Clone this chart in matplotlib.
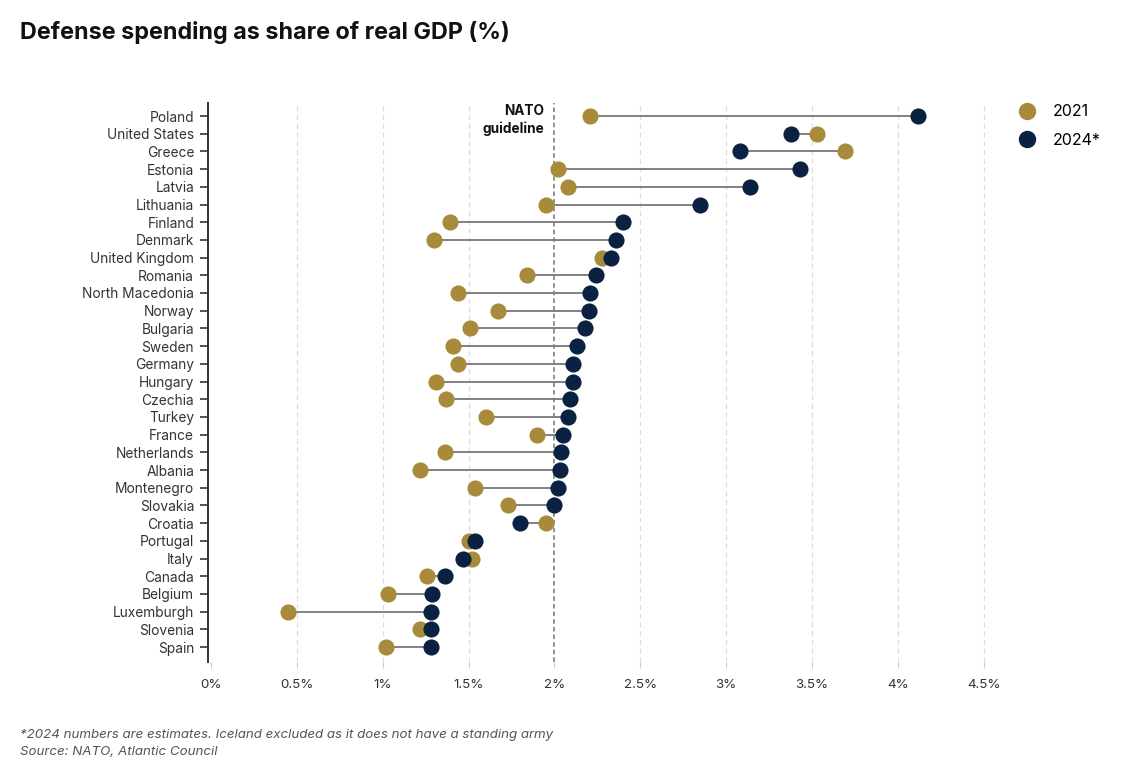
import matplotlib
matplotlib.use("Agg")
import matplotlib.pyplot as plt
from matplotlib.lines import Line2D

countries = ["Poland", "United States", "Greece", "Estonia", "Latvia", "Lithuania",
             "Finland", "Denmark", "United Kingdom", "Romania", "North Macedonia",
             "Norway", "Bulgaria", "Sweden", "Germany", "Hungary", "Czechia", "Turkey",
             "France", "Netherlands", "Albania", "Montenegro", "Slovakia", "Croatia",
             "Portugal", "Italy", "Canada", "Belgium", "Luxemburgh", "Slovenia", "Spain"]
v2021 = [2.21, 3.53, 3.69, 2.02, 2.08, 1.95, 1.39, 1.30, 2.28, 1.84, 1.44, 1.67, 1.51,
         1.41, 1.44, 1.31, 1.37, 1.60, 1.90, 1.36, 1.22, 1.54, 1.73, 1.95, 1.50, 1.52,
         1.26, 1.03, 0.45, 1.22, 1.02]
v2024 = [4.12, 3.38, 3.08, 3.43, 3.14, 2.85, 2.40, 2.36, 2.33, 2.24, 2.21, 2.20, 2.18,
         2.13, 2.11, 2.11, 2.09, 2.08, 2.05, 2.04, 2.03, 2.02, 2.00, 1.80, 1.54, 1.47,
         1.36, 1.29, 1.28, 1.28, 1.28]
xticks = [0, 0.5, 1, 1.5, 2, 2.5, 3, 3.5, 4, 4.5]
xticklabels = ["0%", "0.5%", "1%", "1.5%", "2%", "2.5%", "3%", "3.5%", "4%", "4.5%"]
guideline = 2.0

GOLD = "#A88B3A"
NAVY = "#0B2142"
FONT = ["Inter", "DejaVu Sans"]
plt.rcParams["font.family"] = FONT

W, H = 1135, 772
fig = plt.figure(figsize=(W / 100, H / 100), dpi=100)
ppu = 171.7
ax_left, ax_right = 208, 992
ax_top, ax_bot = 103, 662
ax = fig.add_axes([ax_left / W, 1 - ax_bot / H, (ax_right - ax_left) / W, (ax_bot - ax_top) / H])
ax.set_xlim(-3 / ppu, -3 / ppu + (ax_right - ax_left) / ppu)
n = len(countries)
step = 17.7
ax.set_ylim(n - 1 + 15 / step, -13 / step)

ys = list(range(n))
for xt in xticks[1:]:
    if xt == guideline:
        ax.axvline(xt, color="#777777", lw=1.1, ls=(0, (3, 2)), zorder=1)
    else:
        ax.axvline(xt, color="#DDDDDD", lw=0.9, ls=(0, (4, 3)), zorder=0)

ax.hlines(ys, v2021, v2024, color="#808080", lw=1.4, zorder=2)
ax.scatter(v2021, ys, s=135, color=GOLD, zorder=3, linewidths=0)
ax.scatter(v2024, ys, s=135, color=NAVY, zorder=4, linewidths=0)

ax.set_yticks(ys)
ax.set_yticklabels(countries, fontsize=9.9, color="#333333")
ax.set_xticks(xticks)
ax.set_xticklabels(xticklabels, fontsize=9.6, color="#333333")
ax.tick_params(axis="y", direction="out", length=6, width=1.2, color="#333333", pad=4)
ax.tick_params(axis="x", direction="out", length=4, width=0.8, color="#CCCCCC", pad=8)
for s in ["top", "right", "bottom"]:
    ax.spines[s].set_visible(False)
ax.spines["left"].set_color("#333333")
ax.spines["left"].set_linewidth(1.4)

ax.text(guideline - 0.06, 0.2, "NATO\nguideline", ha="right", va="center",
        fontsize=9.8, fontweight="bold", color="#111111", linespacing=1.3)

fig.text(20 / W, 1 - 32 / H, "Defense spending as share of real GDP (%)",
         fontsize=16.8, fontweight="bold", ha="left", va="center", color="#111111")

handles = [Line2D([], [], marker="o", ls="", color=GOLD, markersize=11.5, label="2021"),
           Line2D([], [], marker="o", ls="", color=NAVY, markersize=11.5, label="2024*")]
fig.legend(handles=handles, loc="upper left", bbox_to_anchor=(1005 / W, 1 - 98 / H),
           frameon=False, fontsize=11.5, handletextpad=0.6, labelspacing=0.85,
           borderaxespad=0)

fig.text(20 / W, 1 - 735 / H,
         "*2024 numbers are estimates. Iceland excluded as it does not have a standing army",
         fontsize=9.6, style="italic", color="#555555", ha="left", va="center")
fig.text(20 / W, 1 - 752 / H, "Source: NATO, Atlantic Council",
         fontsize=9.6, style="italic", color="#555555", ha="left", va="center")

fig.savefig("out.png", dpi=100, facecolor="white")
